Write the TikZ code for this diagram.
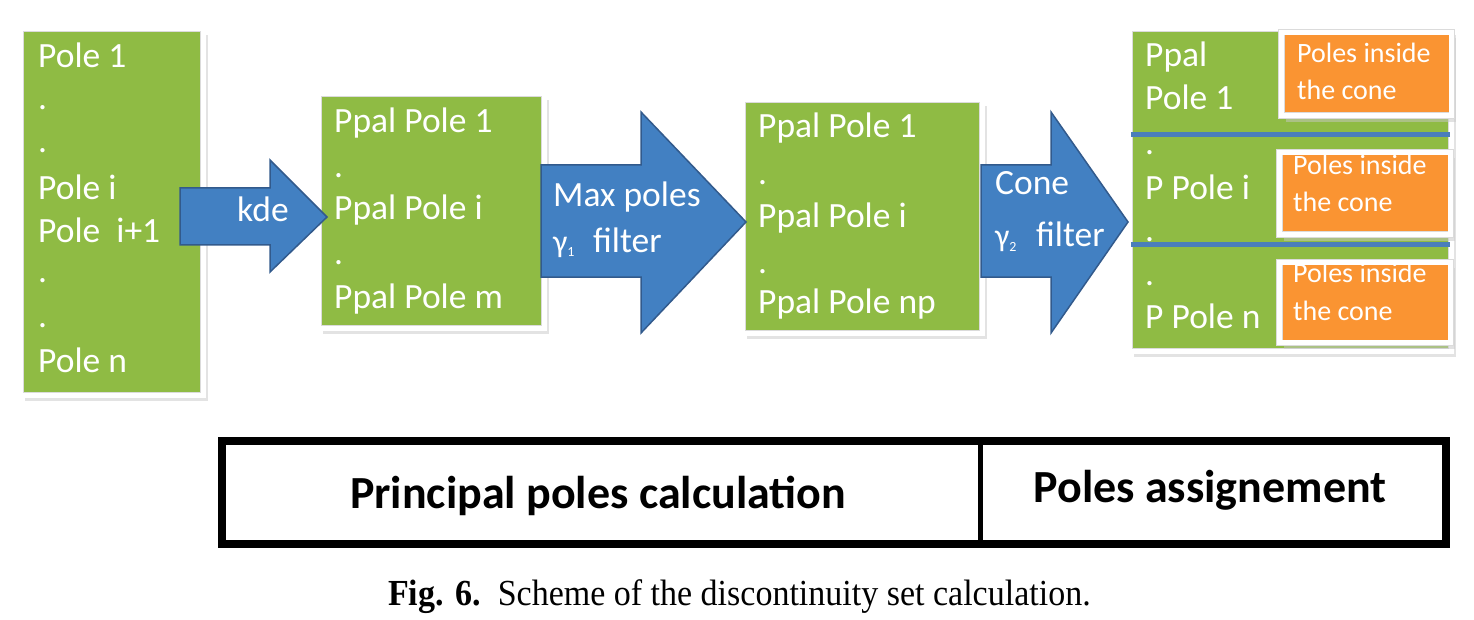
\documentclass[tikz,border=0pt]{standalone}
\usepackage{fontspec}
\usetikzlibrary{shadows}
\newfontfamily\carlito{Carlito}
\newfontfamily\capfont{Liberation Serif}
\definecolor{pgreen}{RGB}{143,187,68}
\definecolor{pblue}{RGB}{66,128,194}
\definecolor{pblueline}{RGB}{50,90,140}
\definecolor{porange}{RGB}{250,148,50}
\definecolor{psep}{RGB}{74,126,187}
\tikzset{
  framed/.style={draw=black!14, double=white, double distance=5pt, line width=0.7pt, inner sep=0pt,
    drop shadow={shadow xshift=4.5pt, shadow yshift=-6pt, fill=black!22}},
  gbox/.style={rectangle, fill=pgreen, framed},
  obox/.style={rectangle, fill=porange, framed},
  gtxt/.style={anchor=base west, text=white, inner sep=0pt, font=\carlito\fontsize{35.5}{35.5}\selectfont},
  otxt/.style={anchor=base west, text=white, inner sep=0pt, font=\carlito\fontsize{28}{28}\selectfont},
  barrow/.style={fill=pblue, draw=pblueline, line width=1.5pt, line join=miter},
  septxt/.style={anchor=base, inner sep=0pt, font=\carlito\bfseries\fontsize{46}{46}\selectfont},
  sepline/.style={draw=psep, line width=5pt},
}
\newcommand{\gsym}[1]{{\fontsize{32}{32}\selectfont γ}\raisebox{-5pt}{\fontsize{14}{14}\selectfont #1}}
\begin{document}
\begin{tikzpicture}[x=1pt,y=-1pt]
\useasboundingbox (0,0) rectangle (1474,620);
% boxes
\node[gbox, minimum width=182.4, minimum height=366.4] (b1) at (112,212) {};
\node[gbox, minimum width=225.4, minimum height=234.4] (b2) at (431.5,211) {};
\node[gbox, minimum width=239.4, minimum height=233.4] (b3) at (862.5,216.5) {};
\node[gbox, minimum width=321.4, minimum height=322.4] (b4) at (1290.5,190) {};
% box 1 text
\node[gtxt] (t11) at (38,68) {Pole 1};
\node[gtxt] (t12) at (38,110) {.};
\node[gtxt] (t13) at (38,153) {.};
\node[gtxt] (t14) at (38,200) {Pole i};
\node[gtxt] (t15) at (38,243) {Pole\ \ i+1};
\node[gtxt] (t16) at (38,283) {.};
\node[gtxt] (t17) at (38,327) {.};
\node[gtxt] (t18) at (38,372) {Pole n};
% box 2 text
\node[gtxt] (t21) at (334,133) {Ppal Pole 1};
\node[gtxt] (t22) at (334,178) {.};
\node[gtxt] (t23) at (334,220) {Ppal Pole i};
\node[gtxt] (t24) at (334,265) {.};
\node[gtxt] (t25) at (334,308) {Ppal Pole m};
% box 3 text
\node[gtxt] (t31) at (758,138) {Ppal Pole 1};
\node[gtxt] (t32) at (758,185) {.};
\node[gtxt] (t33) at (758,228) {Ppal Pole i};
\node[gtxt] (t34) at (758,273) {.};
\node[gtxt] (t35) at (758,313) {Ppal Pole np};
% box 4 text
\node[gtxt] (t41) at (1145,67) {Ppal};
\node[gtxt] (t42) at (1145,110) {Pole 1};
\node[gtxt] (t43) at (1145,155) {.};
\node[gtxt] (t44) at (1145,200) {P Pole i};
\node[gtxt] (t45) at (1145,242) {.};
\node[gtxt] (t46) at (1145,285) {.};
\node[gtxt] (t47) at (1145,328) {P Pole n};
% separator lines in box 4
\coordinate (s1a) at (1131,135); \coordinate (s1b) at (1450,135);
\coordinate (s2a) at (1131,245); \coordinate (s2b) at (1450,245);
\draw[sepline] (s1a) -- (s1b);
\draw[sepline] (s2a) -- (s2b);
% orange boxes
\node[obox, minimum width=170.4, minimum height=83.4] (o1) at (1366.5,74) {};
\node[obox, minimum width=171.4, minimum height=82.4] (o2) at (1365,193.5) {};
\node[obox, minimum width=171.4, minimum height=80.4] (o3) at (1365,302.5) {};
\node[otxt] (o1a) at (1297,63) {Poles inside};
\node[otxt] (o1b) at (1297,100) {the cone};
\node[otxt] (o2a) at (1293,175) {Poles inside};
\node[otxt] (o2b) at (1293,212) {the cone};
\node[otxt] (o3a) at (1293,283) {Poles inside};
\node[otxt] (o3b) at (1293,320) {the cone};
% arrows
\draw[barrow] (180,188) -- (270,188) -- (270,160) -- (327,217) -- (270,272) -- (270,245) -- (180,245) -- cycle;
\draw[barrow] (541,165) -- (641,165) -- (641,112) -- (746,222) -- (641,333) -- (641,277) -- (541,277) -- cycle;
\draw[barrow] (981,165) -- (1051,165) -- (1051,112) -- (1128,222) -- (1051,333) -- (1051,277) -- (981,277) -- cycle;
\node[gtxt] (a1) at (237,222) {kde};
\node[gtxt] (a2) at (553,207) {Max poles};
\node[gtxt] (a2g) at (553,252) {\gsym{1}};
\node[gtxt] (a2f) at (593,252) {filter};
\node[gtxt] (a3) at (995,195) {Cone};
\node[gtxt] (a3g) at (995,247) {\gsym{2}};
\node[gtxt] (a3f) at (1036,247) {filter};
% table
\node[rectangle, draw=black, line width=8pt, minimum width=1224, minimum height=103, inner sep=0pt] (tab) at (834,492.5) {};
\coordinate (d1) at (980,441); \coordinate (d2) at (980,544);
\draw[line width=5pt] (d1) -- (d2);
\node[septxt] (p1) at (598,508) {Principal poles calculation};
\node[septxt] (p2) at (1210,502) {Poles assignement};
% caption
\node[anchor=base west, inner sep=0pt, font=\capfont\fontsize{34}{34}\selectfont] (cap) at (388,605) {\scalebox{1}[1.08]{\textbf{Fig. 6.}\ \ Scheme of the discontinuity set calculation.}};
\end{tikzpicture}
\end{document}
